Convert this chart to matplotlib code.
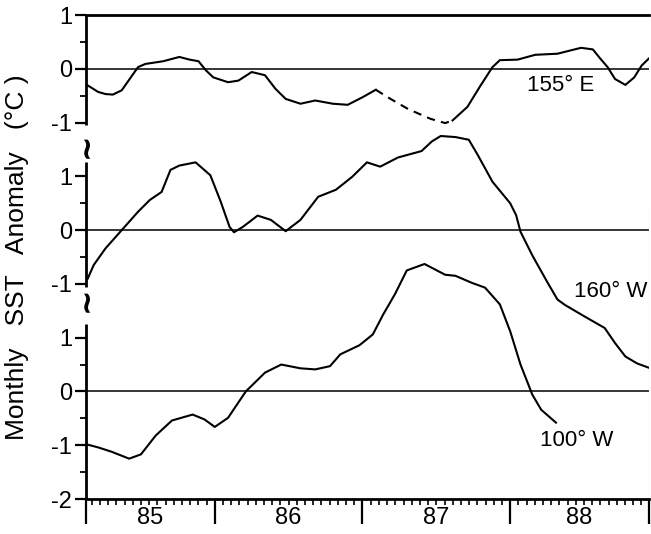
import numpy as np
import matplotlib
matplotlib.use("Agg")
import matplotlib.pyplot as plt

plt.rcParams['font.family'] = ['Liberation Sans', 'DejaVu Sans']

# monthly SST anomaly (deg C), time in decimal years
t_155e = [1985.14, 1985.21, 1985.26, 1985.31, 1985.37, 1985.48, 1985.53, 1985.65,
          1985.76, 1985.83, 1985.89, 1985.94, 1985.99, 1986.09, 1986.16, 1986.25,
          1986.34, 1986.41, 1986.48, 1986.58, 1986.68, 1986.80, 1986.90, 1987.00,
          1987.09, 1987.19, 1987.31, 1987.46, 1987.56, 1987.61, 1987.71, 1987.80,
          1987.88, 1987.93, 1988.05, 1988.17, 1988.32, 1988.48, 1988.56, 1988.61,
          1988.66, 1988.71, 1988.78, 1988.84, 1988.89, 1988.95]
sst_155e = [-0.31, -0.43, -0.47, -0.48, -0.40, 0.03, 0.09, 0.14,
            0.22, 0.17, 0.14, -0.03, -0.16, -0.25, -0.22, -0.06,
            -0.12, -0.37, -0.56, -0.65, -0.59, -0.65, -0.67, -0.53,
            -0.39, -0.56, -0.75, -0.93, -1.01, -0.96, -0.71, -0.31,
            0.03, 0.16, 0.17, 0.26, 0.28, 0.39, 0.36, 0.19,
            0.03, -0.19, -0.30, -0.16, 0.06, 0.22]
gap_155e = (1987.09, 1987.61)   # no data: drawn dashed

t_160w = [1985.14, 1985.18, 1985.26, 1985.37, 1985.48, 1985.56, 1985.64, 1985.70,
          1985.76, 1985.87, 1985.97, 1986.04, 1986.10, 1986.13, 1986.19, 1986.29,
          1986.38, 1986.48, 1986.58, 1986.70, 1986.82, 1986.93, 1987.03, 1987.12,
          1987.24, 1987.40, 1987.47, 1987.53, 1987.63, 1987.72, 1987.78, 1987.88,
          1988.00, 1988.04, 1988.07, 1988.15, 1988.25, 1988.32, 1988.37, 1988.50,
          1988.64, 1988.71, 1988.78, 1988.86, 1988.95]
sst_160w = [-0.90, -0.65, -0.34, 0.00, 0.34, 0.56, 0.71, 1.12,
            1.20, 1.26, 1.02, 0.53, 0.06, -0.04, 0.06, 0.27,
            0.19, -0.02, 0.19, 0.62, 0.75, 0.99, 1.26, 1.18,
            1.35, 1.47, 1.65, 1.75, 1.73, 1.68, 1.40, 0.90,
            0.50, 0.28, -0.03, -0.47, -0.96, -1.29, -1.39, -1.60,
            -1.82, -2.10, -2.35, -2.48, -2.57]

t_100w = [1985.14, 1985.21, 1985.30, 1985.42, 1985.50, 1985.60, 1985.71, 1985.85,
          1985.93, 1986.00, 1986.09, 1986.21, 1986.34, 1986.45, 1986.58, 1986.68,
          1986.78, 1986.85, 1986.98, 1987.07, 1987.14, 1987.22, 1987.30, 1987.42,
          1987.56, 1987.63, 1987.74, 1987.83, 1987.93, 1988.00, 1988.07, 1988.15,
          1988.21, 1988.31]
sst_100w = [-0.99, -1.04, -1.12, -1.25, -1.17, -0.82, -0.54, -0.43,
            -0.52, -0.66, -0.49, 0.00, 0.35, 0.50, 0.43, 0.41,
            0.47, 0.69, 0.86, 1.06, 1.43, 1.81, 2.25, 2.37,
            2.17, 2.15, 2.02, 1.93, 1.62, 1.12, 0.50, -0.06,
            -0.34, -0.58]

years = ['85', '86', '87', '88']
x_start, x_end = 1985.128, 1988.94

# vertical offset of each panel and its labelled ticks
off_155e, off_160w, off_100w = 6, 3, 0
ticks_155e = [-1, 0, 1]
ticks_160w = [-1, 0, 1]
ticks_100w = [-2, -1, 0, 1]

fig = plt.figure(figsize=(6.51, 5.34), dpi=100)
ax = fig.add_axes([86 / 651, 1 - 499 / 534, 563 / 651, 484 / 534])
ax.set_xlim(x_start, x_end)
ax.set_ylim(-2, 7)

lw = 1.5
for off in (off_155e, off_160w, off_100w):
    ax.axhline(off, color='black', lw=1.1, zorder=1)

t = np.array(t_155e)
v = np.array(sst_155e) + off_155e
before = t <= gap_155e[0]
inside = (t >= gap_155e[0]) & (t <= gap_155e[1])
after = t >= gap_155e[1]
ax.plot(t[before], v[before], color='black', lw=lw)
ax.plot(t[inside], v[inside], color='black', lw=lw, ls=(0, (4, 3)))
ax.plot(t[after], v[after], color='black', lw=lw)
ax.plot(t_160w, np.array(sst_160w) + off_160w, color='black', lw=lw)
ax.plot(t_100w, np.array(sst_100w) + off_100w, color='black', lw=lw)

ax.text(1988.34, off_155e - 0.32, '155° E', fontsize=16, ha='center', va='center')
ax.text(1988.68, off_160w - 1.14, '160° W', fontsize=16, ha='center', va='center')
ax.text(1988.45, off_100w - 0.91, '100° W', fontsize=16, ha='center', va='center')

# y axis: broken left spine, one piece per panel
for sp in ('left', 'right'):
    ax.spines[sp].set_visible(False)
ax.spines['top'].set_linewidth(2)
ax.spines['bottom'].set_linewidth(2)
ytr = ax.get_yaxis_transform()
ax.vlines(0, off_155e - 1.05, off_155e + 1, transform=ytr, color='black', lw=2, clip_on=False)
ax.vlines(0, off_160w - 1.06, off_160w + 1.26, transform=ytr, color='black', lw=2, clip_on=False)
ax.vlines(0, off_100w - 2, off_100w + 1.25, transform=ytr, color='black', lw=2, clip_on=False)
for ybreak in (off_155e - 1.42, off_160w - 1.28):
    ax.text(0, ybreak, '~', transform=ytr, rotation=90, fontsize=22,
            ha='center', va='center', fontweight='bold', family='DejaVu Sans')
ax.vlines(1, -2, 3.48, transform=ytr, color='0.65', lw=0.8, ls=(0, (3, 1)))

yt, yl, ym = [], [], []
for off, ticks in ((off_155e, ticks_155e), (off_160w, ticks_160w), (off_100w, ticks_100w)):
    for k in ticks:
        yt.append(off + k)
        yl.append(str(k))
    ym += [off + k + 0.5 for k in ticks[:-1]]
ax.set_yticks(yt)
ax.set_yticklabels(yl, fontsize=17)
ax.set_yticks(ym, minor=True)
ax.tick_params(axis='y', which='major', direction='out', length=8, width=1.6, pad=2)
ax.tick_params(axis='y', which='minor', direction='out', length=4, width=1.3)

# x axis: long year ticks, short minor ticks, year labels between them
majors = [x_start, 1986, 1987, 1988, x_end]
ax.set_xticks(majors)
ax.set_xticklabels([])
step = 1 / 18
minors = np.arange(1986 - 16 * step, x_end, step)
ax.set_xticks(minors[(minors > x_start) & (minors < x_end)], minor=True)
ax.tick_params(axis='x', which='major', direction='out', length=18, width=1.6)
ax.tick_params(axis='x', which='minor', direction='out', length=4, width=1.2)
xtr = ax.get_xaxis_transform()
for lo, hi, lab in zip(majors[:-1], majors[1:], years):
    ax.text((lo + hi) / 2, -0.04, lab, transform=xtr, fontsize=17,
            ha='center', va='center')

fig.text(17 / 651, 1 - 257 / 534, 'Monthly   SST   Anomaly   (°C )', rotation=90,
         fontsize=19, ha='center', va='center')

fig.savefig('out.png', dpi=100)
